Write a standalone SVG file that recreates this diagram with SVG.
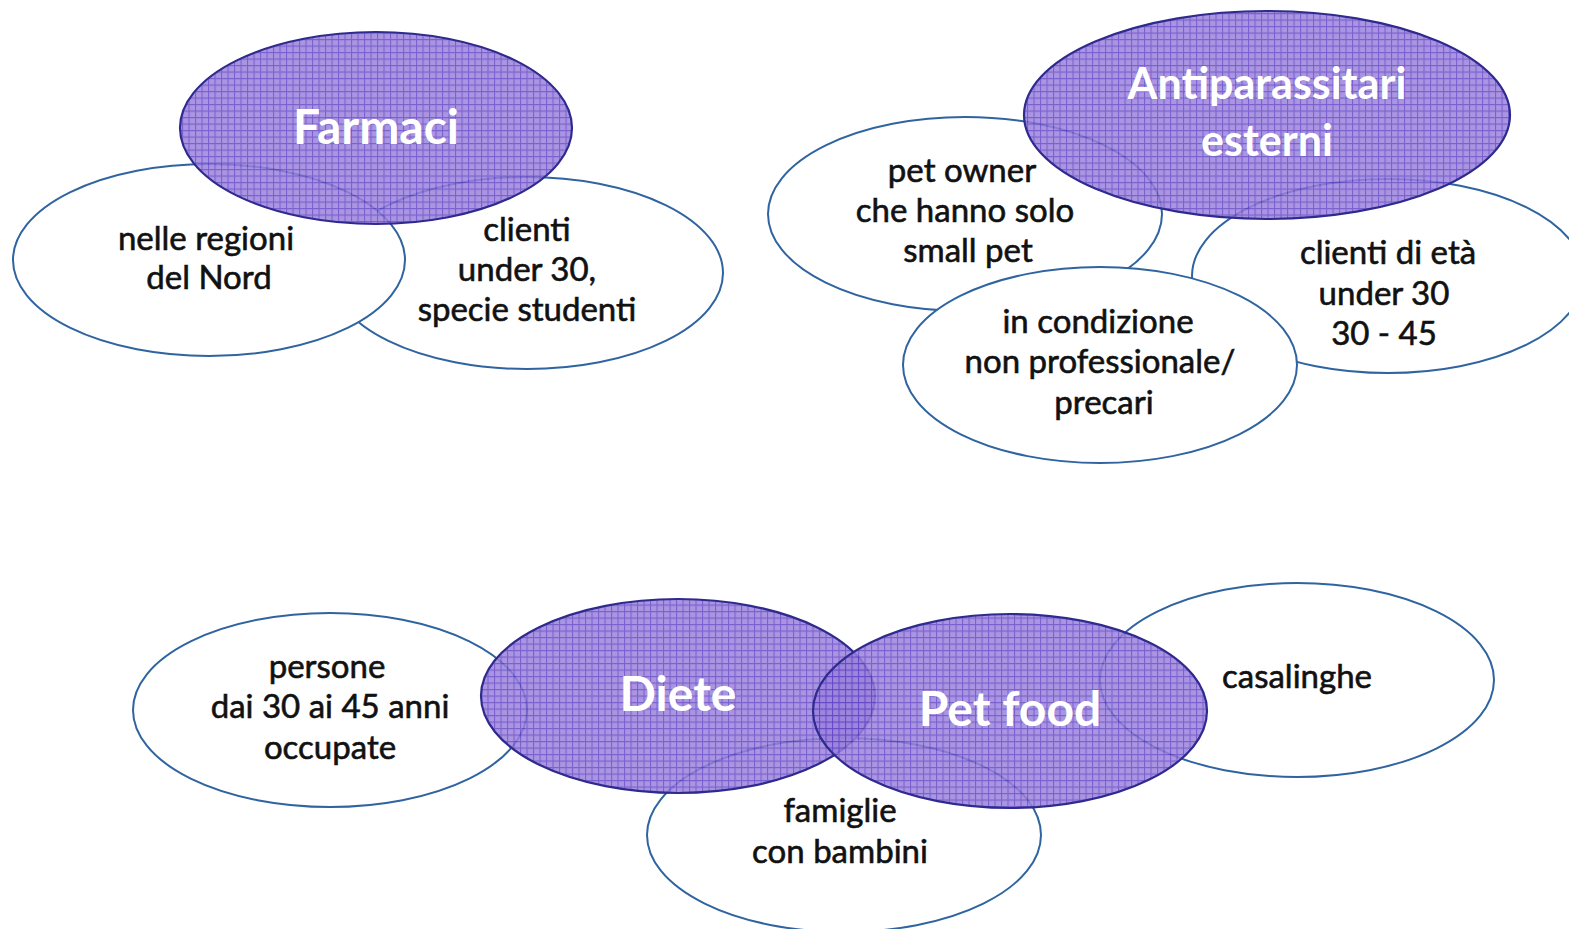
<svg xmlns="http://www.w3.org/2000/svg" width="1569" height="929" viewBox="0 0 1569 929">
<defs>
<pattern id="grid" width="6.5" height="6.5" patternUnits="userSpaceOnUse">
<rect width="6.5" height="6.5" fill="#9a82dc"/>
<path d="M0 0.5H6.5M0.5 0V6.5" stroke="#6445c6" stroke-width="1.1"/>
</pattern>
</defs>
<style>
.w{fill:#fff;stroke:#2f64a0;stroke-width:2}
.p{fill:url(#grid);fill-opacity:0.85;stroke:#2e2a8e;stroke-width:2.2}
.t{font-family:"Lato","Noto Sans",sans-serif;font-size:33px;fill:#111;stroke:#111;stroke-width:0.6;text-anchor:middle}
.h{font-family:"Lato","Noto Sans",sans-serif;font-weight:bold;font-size:48px;fill:#fff;text-anchor:middle}
.h2{font-size:43px}
</style>
<rect width="1569" height="929" fill="#fff"/>
<g id="clienti30"><ellipse class="w" cx="527" cy="273" rx="196" ry="96"/></g>
<g id="nord"><ellipse class="w" cx="209" cy="260" rx="196" ry="96"/></g>
<g id="farmaci"><ellipse class="p" cx="376" cy="128" rx="196" ry="96"/></g>
<g id="petowner"><ellipse class="w" cx="965" cy="214" rx="197" ry="97"/></g>
<g id="clientieta"><ellipse class="w" cx="1388" cy="276" rx="196" ry="97"/></g>
<g id="condizione"><ellipse class="w" cx="1100" cy="365" rx="197" ry="98"/></g>
<g id="antiparassitari"><ellipse class="p" cx="1267" cy="115" rx="243" ry="104"/></g>
<g id="persone"><ellipse class="w" cx="330" cy="710" rx="197" ry="97"/></g>
<g id="famiglie"><ellipse class="w" cx="844" cy="835" rx="197" ry="97"/></g>
<g id="casalinghe"><ellipse class="w" cx="1297" cy="680" rx="197" ry="97"/></g>
<g id="diete"><ellipse class="p" cx="678" cy="696" rx="197" ry="97"/></g>
<g id="petfood"><ellipse class="p" cx="1010" cy="711" rx="197" ry="97"/></g>
<g id="labels">
<text class="h" x="376" y="144">Farmaci</text>
<text class="t" x="206" y="250">nelle regioni</text>
<text class="t" x="209" y="289">del  Nord</text>
<text class="t" x="527" y="241">clienti</text>
<text class="t" x="527" y="281">under 30,</text>
<text class="t" x="527" y="321">specie studenti</text>
<text class="h h2" x="1267" y="99">Antiparassitari</text>
<text class="h h2" x="1267" y="156">esterni</text>
<text class="t" x="962" y="182">pet owner</text>
<text class="t" x="965" y="222">che hanno solo</text>
<text class="t" x="968" y="262">small pet</text>
<text class="t" x="1388" y="264">clienti di età</text>
<text class="t" x="1384" y="305">under 30</text>
<text class="t" x="1384" y="345">30 - 45</text>
<text class="t" x="1098" y="333">in condizione</text>
<text class="t" x="1100" y="373">non professionale/</text>
<text class="t" x="1104" y="414">precari</text>
<text class="t" x="327" y="678">persone</text>
<text class="t" x="330" y="718">dai 30 ai 45 anni</text>
<text class="t" x="330" y="759">occupate</text>
<text class="h" x="678" y="711">Diete</text>
<text class="h" x="1010" y="726">Pet food</text>
<text class="t" x="1297" y="688">casalinghe</text>
<text class="t" x="840" y="822">famiglie</text>
<text class="t" x="840" y="863">con bambini</text>
</g>
</svg>
